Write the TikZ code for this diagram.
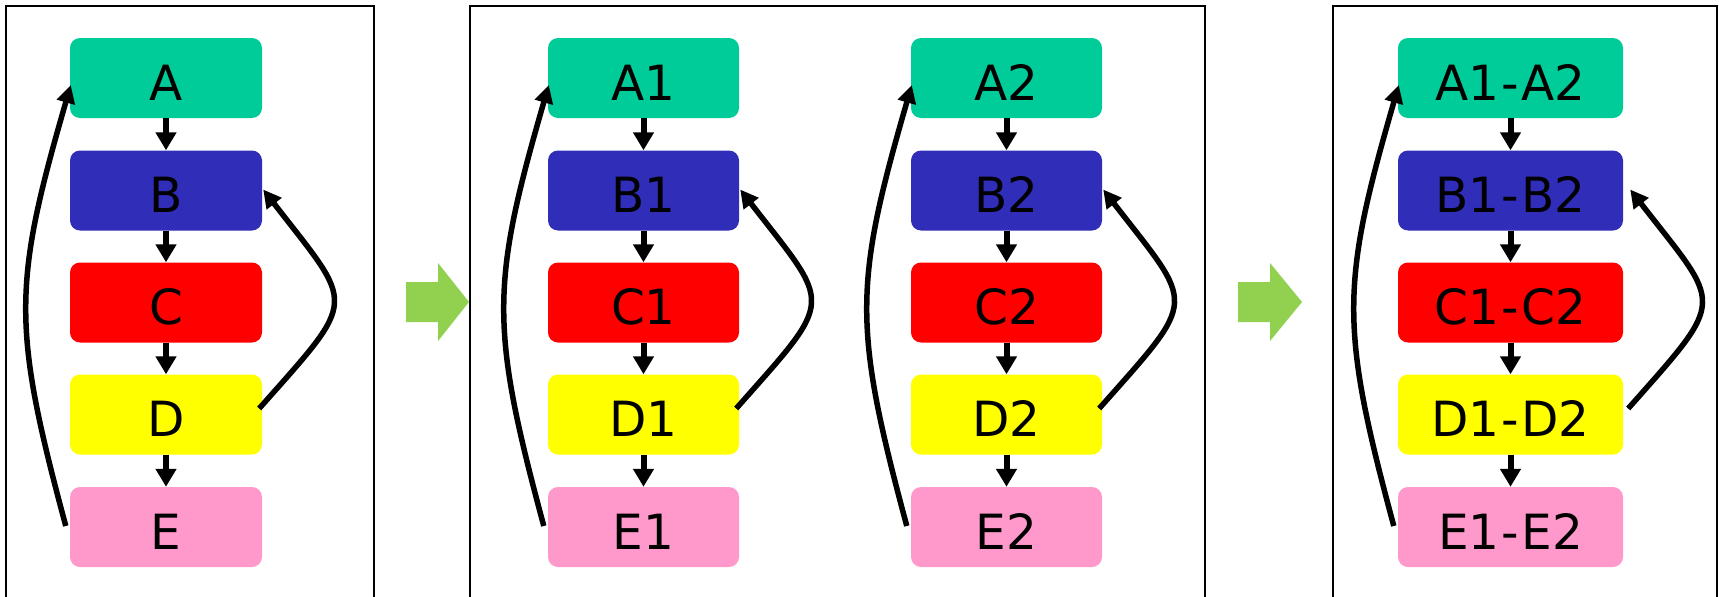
\documentclass[tikz,border=0pt]{standalone}
\usepackage{fontspec}
\setmainfont{DejaVu Sans}
\usetikzlibrary{arrows.meta,calc}
\definecolor{cA}{RGB}{0,204,153}
\definecolor{cB}{RGB}{48,45,185}
\definecolor{cC}{RGB}{255,0,0}
\definecolor{cD}{RGB}{255,255,0}
\definecolor{cE}{RGB}{255,153,204}
\definecolor{arrowgreen}{RGB}{146,208,80}
\newcommand{\hy}{\kern2.2pt-\kern2.2pt}
\tikzset{
  box/.style={rectangle, rounded corners=10pt, minimum height=80pt, inner sep=0pt,
    text height=44pt, text depth=0pt, font=\fontsize{48.5}{56}\selectfont},
  flow/.style={line width=6pt, -{Triangle[length=18pt,width=20pt]}},
  loopback/.style={line width=5.5pt, -{Triangle[length=18pt,width=18pt]}},
  frame/.style={draw=black, line width=2pt},
  bigarrow/.style={fill=arrowgreen}
}
\begin{document}
\begin{tikzpicture}[x=1pt,y=-1pt]
\clip (0,0) rectangle (1719,597);
\fill[white] (0,0) rectangle (1719,597);

% frames
\draw[frame] (6,6) rectangle (374,640);
\draw[frame] (470,6) rectangle (1205,640);
\draw[frame] (1333,6) rectangle (1717,640);

% green transition arrows
\fill[bigarrow] (406,282) -- (438,282) -- (438,263) -- (469,302) -- (438,341) -- (438,322) -- (406,322) -- cycle;
\fill[bigarrow] (1238,282) -- (1270,282) -- (1270,263) -- (1302,302) -- (1270,341) -- (1270,322) -- (1238,322) -- cycle;

% column 1
\node[box, fill=cA, minimum width=192pt] (a) at (166,78) {A};
\node[box, fill=cB, minimum width=192pt] (b) at (166,190.5) {B};
\node[box, fill=cC, minimum width=192pt] (c) at (166,302.5) {C};
\node[box, fill=cD, minimum width=192pt] (d) at (166,414.5) {D};
\node[box, fill=cE, minimum width=192pt] (e) at (166,527) {E};

% column 2
\node[box, fill=cA, minimum width=191pt] (a1) at (643.5,78) {A1};
\node[box, fill=cB, minimum width=191pt] (b1) at (643.5,190.5) {B1};
\node[box, fill=cC, minimum width=191pt] (c1) at (643.5,302.5) {C1};
\node[box, fill=cD, minimum width=191pt] (d1) at (643.5,414.5) {D1};
\node[box, fill=cE, minimum width=191pt] (e1) at (643.5,527) {E1};

% column 3
\node[box, fill=cA, minimum width=191pt] (a2) at (1006.5,78) {A2};
\node[box, fill=cB, minimum width=191pt] (b2) at (1006.5,190.5) {B2};
\node[box, fill=cC, minimum width=191pt] (c2) at (1006.5,302.5) {C2};
\node[box, fill=cD, minimum width=191pt] (d2) at (1006.5,414.5) {D2};
\node[box, fill=cE, minimum width=191pt] (e2) at (1006.5,527) {E2};

% column 4
\node[box, fill=cA, minimum width=225pt] (a12) at (1510.5,78) {A1\hy A2};
\node[box, fill=cB, minimum width=225pt] (b12) at (1510.5,190.5) {B1\hy B2};
\node[box, fill=cC, minimum width=225pt] (c12) at (1510.5,302.5) {C1\hy C2};
\node[box, fill=cD, minimum width=225pt] (d12) at (1510.5,414.5) {D1\hy D2};
\node[box, fill=cE, minimum width=225pt] (e12) at (1510.5,527) {E1\hy E2};

% vertical flow arrows and left loop-backs
\foreach \s in {,1,2,12}{
  \draw[flow] (a\s.south) -- (b\s.north);
  \draw[flow] (b\s.south) -- (c\s.north);
  \draw[flow] (c\s.south) -- (d\s.north);
  \draw[flow] (d\s.south) -- (e\s.north);
  \draw[loopback] ($(e\s.west)+(-4,-1)$) .. controls +(-54,-200) and +(-58,200) .. ($(a\s.west)+(1,7)$);
}
% right loop-backs
\foreach \s in {,1,2}{
  \draw[loopback] ($(d\s.east)+(-3,-6)$) .. controls +(100,-113) and +(92,119) .. ($(b\s.east)+(1,-1)$);
}
\draw[loopback] ($(d12.east)+(5,-6)$) .. controls +(100,-113) and +(92,119) .. ($(b12.east)+(7,-1)$);
\end{tikzpicture}
\end{document}
